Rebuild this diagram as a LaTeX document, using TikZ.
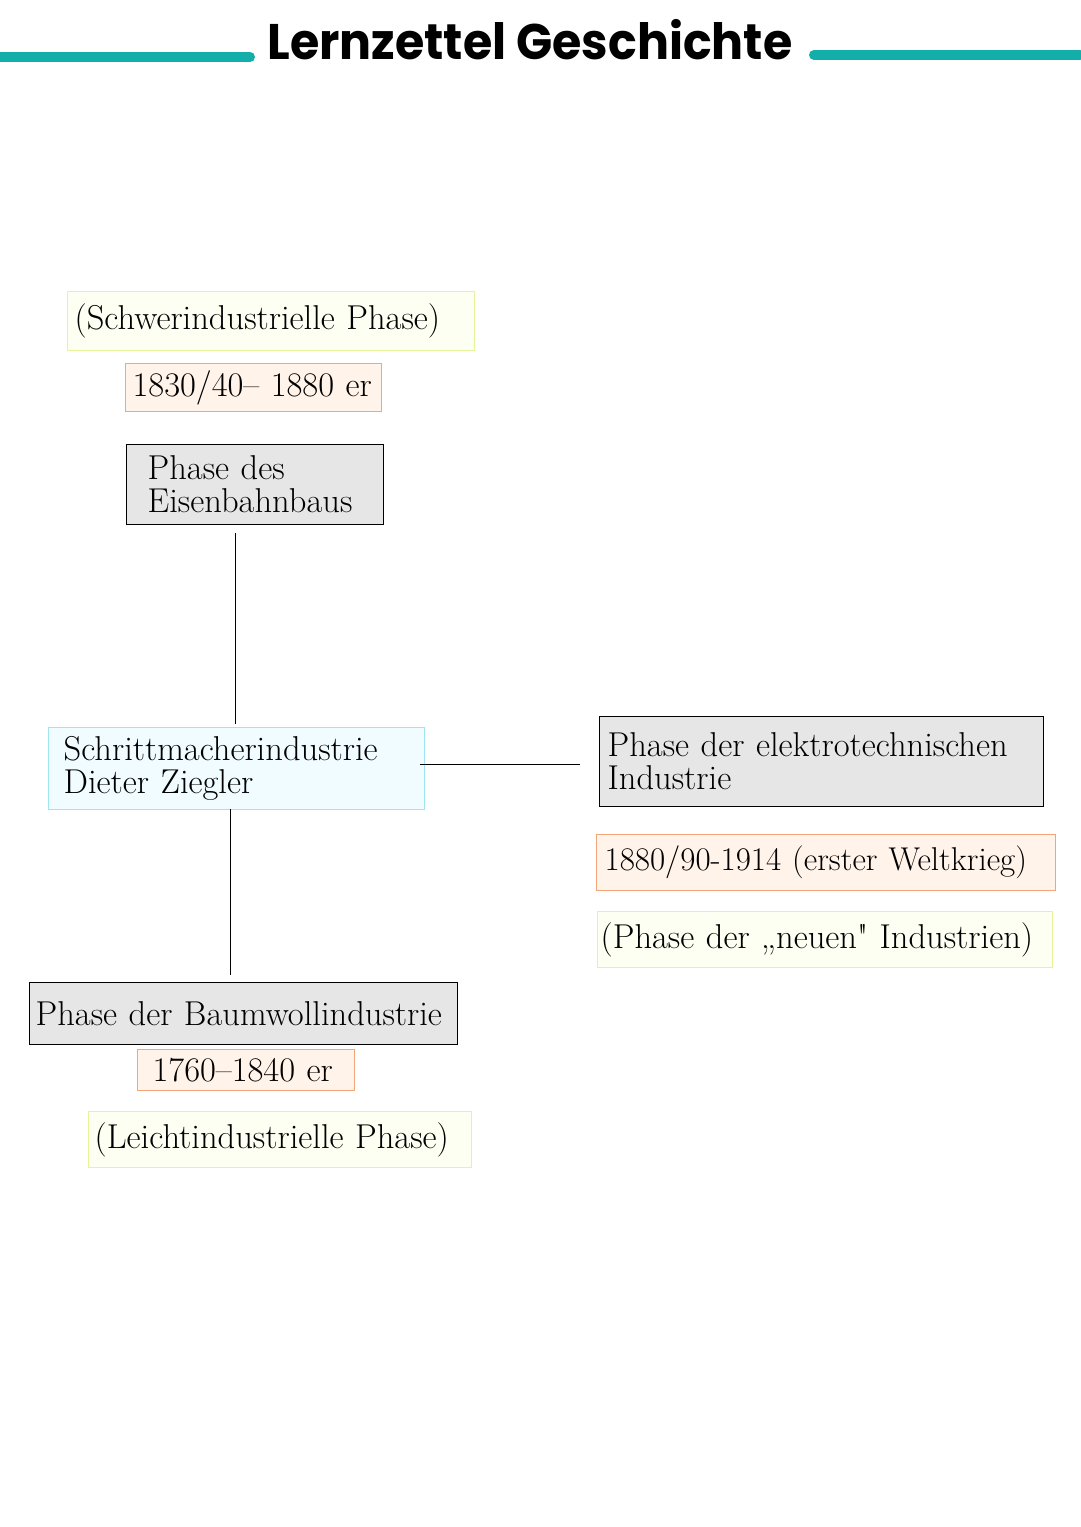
\documentclass[tikz,border=0pt]{standalone}
\usepackage{fontspec}
\newfontfamily\titlefont{Poppins Bold}
\begin{document}
\begin{tikzpicture}[x=1pt,y=-1pt,
  bx/.style={draw, line width=1.3pt, inner ysep=0pt, font=\fontsize{34.5}{33}\selectfont, align=left, anchor=north west},
  green/.style={bx, draw=lgreen, fill=lgreenf},
  orange/.style={bx, draw=lorange, fill=lorangef},
  gray/.style={bx, draw=black, fill=lgray},
  cyan/.style={bx, draw=lcyan, fill=lcyanf},
  conn/.style={line width=0.8pt}]
\definecolor{lgreen}{HTML}{E2F59A}\definecolor{lgreenf}{HTML}{FDFFF3}
\definecolor{lorange}{HTML}{F6A47A}\definecolor{lorangef}{HTML}{FFF3EA}
\definecolor{lgray}{HTML}{E6E6E6}
\definecolor{lcyan}{HTML}{9FE6F2}\definecolor{lcyanf}{HTML}{F0FCFF}
\definecolor{teal}{HTML}{13AEAA}
\useasboundingbox (0,0) rectangle (1080,1527);
\fill[white] (0,0) rectangle (1080,1527);
\node[font=\titlefont\fontsize{50}{50}\selectfont, inner sep=0, xscale=0.95] (title) at (530,40) {Lernzettel Geschichte};
\coordinate (l1) at (0,57); \coordinate (l2) at (250,57);
\coordinate (r1) at (814,55); \coordinate (r2) at (1080,55);
\draw[teal, line width=10pt, line cap=round] (l1) -- (l2);
\draw[teal, line width=10pt, line cap=round] (r1) -- (r2);

\node[green, inner xsep=7pt, text width=393, minimum height=59] (schwer) at (67,291) {(Schwerindustrielle Phase)};
\node[orange, inner xsep=7pt, text width=242, minimum height=48] (d1) at (125,363) {1830/40-- 1880 er};
\node[gray, inner xsep=21pt, text width=215, minimum height=80] (eisen) at (126,444) {Phase des\\Eisenbahnbaus};
\node[cyan, inner xsep=15pt, text width=346, minimum height=82] (schritt) at (48,727) {Schrittmacherindustrie\\Dieter Ziegler};
\node[gray, inner xsep=6pt, text width=416, minimum height=62] (baum) at (29,982) {Phase der Baumwollindustrie};
\node[orange, inner xsep=15pt, text width=187, minimum height=41] (d2) at (137,1049) {1760--1840 er};
\node[green, inner xsep=6pt, text width=371, minimum height=56] (leicht) at (88,1111) {(Leichtindustrielle Phase)};
\node[gray, inner xsep=8pt, text width=428, minimum height=90] (elek) at (599,716) {Phase der elektrotechnischen\\Industrie};
\node[orange, inner xsep=8pt, text width=443, minimum height=56, font=\fontsize{33}{33}\selectfont] (d3) at (596,834) {1880/90-1914 (erster Weltkrieg)};
\node[green, inner xsep=3pt, text width=449, minimum height=56] (neu) at (597,911) {(Phase der „neuen\textquotedbl{} Industrien)};

\coordinate (a1) at (235,533); \coordinate (a2) at (235,724);
\draw[conn] (a1) -- (a2);
\coordinate (b1) at (420,764); \coordinate (b2) at (580,764);
\draw[conn] (b1) -- (b2);
\coordinate (c1) at (230,809); \coordinate (c2) at (230,975);
\draw[conn] (c1) -- (c2);
\end{tikzpicture}
\end{document}
